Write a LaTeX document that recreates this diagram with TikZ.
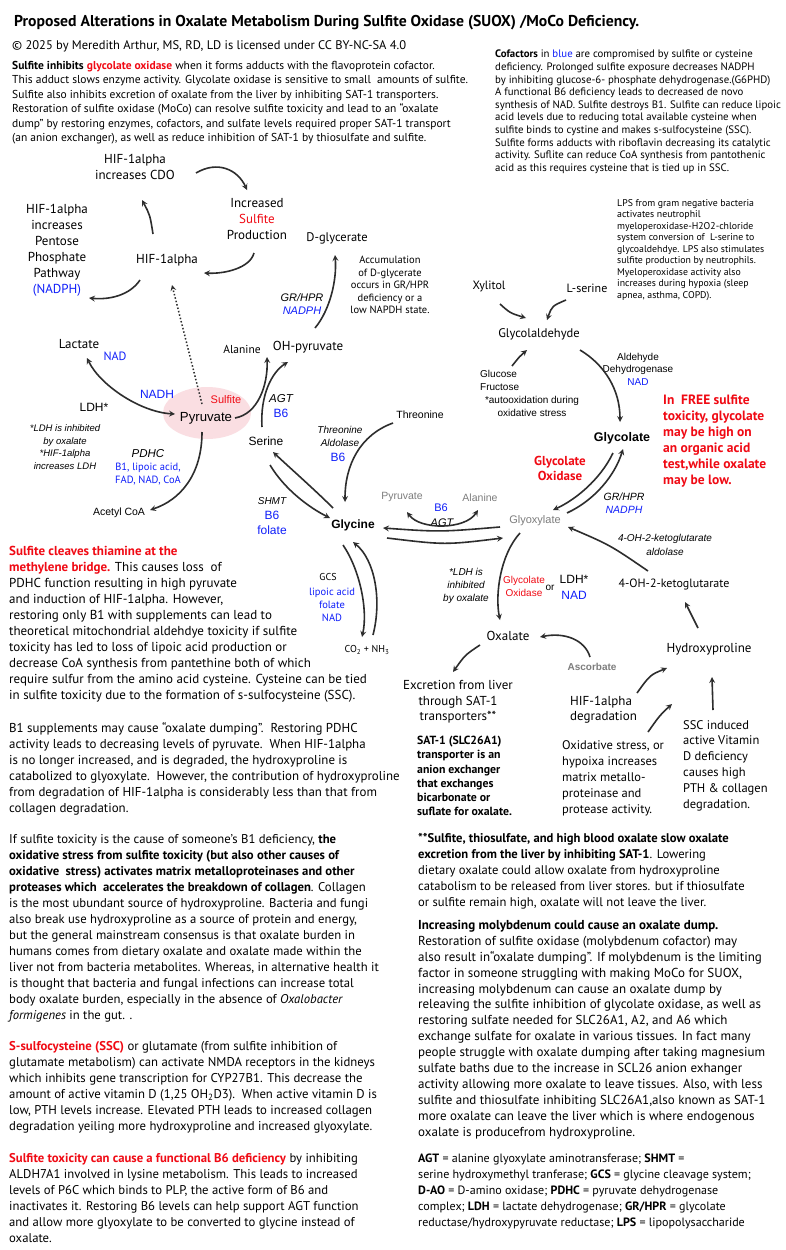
\documentclass[tikz,border=0pt]{standalone}
\usepackage{fontspec}
\setmainfont{PT Sans}
\newfontfamily\arialf{Liberation Sans}
\usetikzlibrary{arrows,calc}
\definecolor{sred}{RGB}{240,10,20}
\definecolor{cblue}{RGB}{15,30,250}
\definecolor{arrgray}{RGB}{45,45,45}
\definecolor{lgray}{RGB}{125,125,125}
\definecolor{pyrpink}{RGB}{250,222,226}
\newcommand{\fsz}[2]{\fontsize{#1}{#2}\selectfont}
\newcommand{\bl}[1]{\textcolor{cblue}{#1}}
\newcommand{\rd}[1]{\textcolor{sred}{#1}}
\tikzset{
  arr/.style={->,>=stealth,line width=1.6pt,draw=arrgray},
  lab/.style={inner sep=1pt,align=center,font=\fsz{13}{16}},
  alab/.style={inner sep=1pt,align=center,font=\arialf\fsz{11}{13}},
  para/.style={anchor=north west,inner sep=0pt,align=left,font=\fsz{12.9}{16}},
}
\begin{document}
\begin{tikzpicture}[x=1pt,y=-1pt]
  \fill[white] (0,0) rectangle (785,1250);
  \useasboundingbox (0,0) rectangle (785,1250);

  % header
  \node[anchor=west,inner sep=0pt,font=\bfseries\fsz{15.7}{18}] (title) at (14,23) {Proposed Alterations in Oxalate Metabolism During Sulfite Oxidase (SUOX) /MoCo Deficiency.};
  \node[anchor=west,inner sep=0pt,font=\fsz{12.5}{15}] (lic) at (12,46) {© 2025 by Meredith Arthur, MS, RD, LD is licensed under CC BY-NC-SA 4.0};
  \node[para,font=\fsz{11.5}{14.5}] (intro) at (12,61) {\textbf{Sulfite inhibits} \rd{\textbf{glycolate oxidase}} when it forms adducts with the flavoprotein cofactor.\\
    This adduct slows enzyme activity. Glycolate oxidase is sensitive to small\ \ amounts of sulfite.\\
    Sulfite also inhibits excretion of oxalate from the liver by inhibiting SAT-1 transporters.\\
    Restoration of sulfite oxidase (MoCo) can resolve sulfite toxicity and lead to an “oxalate\\
    dump” by restoring enzymes, cofactors, and sulfate levels required proper SAT-1 transport\\
    (an anion exchanger), as well as reduce inhibition of SAT-1 by thiosulfate and sulfite.};
  \node[para,font=\fsz{10.8}{12.6}] (cofac) at (495,50) {\textbf{Cofactors} in \bl{blue} are compromised by sulfite or cysteine\\
    deficiency. Prolonged sulfite exposure decreases NADPH\\
    by inhibiting glucose-6- phosphate dehydrogenase.(G6PHD)\\
    A functional B6 deficiency leads to decreased de novo\\
    synthesis of NAD. Sulfite destroys B1. Sulfite can reduce lipoic\\
    acid levels due to reducing total available cysteine when\\
    sulfite binds to cystine and makes s-sulfocysteine (SSC).\\
    Sulfite forms adducts with riboflavin decreasing its catalytic\\
    activity. Suflite can reduce CoA synthesis from pantothenic\\
    acid as this requires cysteine that is tied up in SSC.};
  \node[para,font=\fsz{9.8}{11.5}] (lps) at (617,199) {LPS from gram negative bacteria\\
    activates neutrophil\\
    myeloperoxidase-H2O2-chloride\\
    system conversion of\ \ L-serine to\\
    glycoaldehdye. LPS also stimulates\\
    sulfite production by neutrophils.\\
    Myeloperoxidase activity also\\
    increases during hypoxia (sleep\\
    apnea, asthma, COPD).};

  % HIF-1alpha loop
  \fill[pyrpink] (207,413) ellipse (44 and 26);
  \node[lab] (hifcdo) at (135,167) {HIF-1alpha\\increases CDO};
  \node[lab] (incsulf) at (257,219) {Increased\\\rd{Sulfite}\\Production};
  \node[lab] (hifppp) at (57,250) {HIF-1alpha\\increases\\Pentose\\Phosphate\\Pathway\\\bl{(NADPH)}};
  \node[lab] (hif) at (167,260) {HIF-1alpha};
  \node[lab,font=\fsz{12.5}{15}] (dglyc) at (337,238) {D-glycerate};
  \node[lab,font=\fsz{10.5}{12.6}] (accum) at (390,285) {Accumulation\\of D-glycerate\\occurs in GR/HPR\\deficiency or a\\low NAPDH state.};
  \node[alab,font=\arialf\itshape\fsz{11}{13}] (grhpra) at (302,304) {GR/HPR\\\bl{NADPH}};
  \node[lab,font=\fsz{11.5}{14}] (alanine) at (242,349) {Alanine};
  \node[lab] (ohpyr) at (308,347) {OH-pyruvate};
  \node[lab] (lactate) at (79,344) {Lactate};
  \node[lab,font=\fsz{12}{14}] (nadlac) at (115,356) {\bl{NAD}};

  % pyruvate
  \node[alab,font=\arialf\fsz{12}{14}] (nadh) at (157,394) {\bl{NADH}};
  \node[alab,font=\arialf\fsz{12}{14}] (ldh) at (94,407) {LDH*};
  \node[alab,font=\arialf\fsz{13.2}{16}] (pyruvate) at (206,418) {Pyruvate};
  \node[alab,font=\arialf\fsz{11}{13}] (sulfpyr) at (226,400) {\rd{Sulfite}};
  \node[alab,font=\arialf\itshape\fsz{9.5}{12.6}] (ldhnote) at (65,447) {*LDH is inhibited\\by oxalate\\*HIF-1alpha\\increases LDH};
  \node[alab,font=\arialf\itshape\fsz{11.5}{13}] (pdhc) at (148,454) {PDHC};
  \node[lab,font=\fsz{10.5}{12.5}] (pdhcco) at (148,474) {\bl{B1, lipoic acid,}\\\bl{FAD, NAD, CoA}};
  \node[alab,font=\arialf\fsz{10.5}{12}] (acetyl) at (119,513) {Acetyl CoA};

  % serine, glycine
  \node[alab,font=\arialf\itshape\fsz{11.5}{13}] (agt) at (281,399) {AGT};
  \node[alab,font=\arialf\fsz{12}{14}] (agtb6) at (281,413) {\bl{B6}};
  \node[alab,font=\arialf\fsz{12}{14}] (serine) at (266,441) {Serine};
  \node[alab,font=\arialf\fsz{10.5}{12}] (thr) at (420,415) {Threonine};
  \node[alab,font=\arialf\itshape\fsz{10}{13}] (thrald) at (340,436.5) {Threonine\\Aldolase};
  \node[alab,font=\arialf\fsz{12}{14}] (thrb6) at (338,457) {\bl{B6}};
  \node[alab,font=\arialf\itshape\fsz{10}{12}] (shmt) at (272,501) {SHMT};
  \node[alab,font=\arialf\fsz{12}{15}] (shmtco) at (272,522.5) {\bl{B6}\\\bl{folate}};
  \node[alab,font=\arialf\bfseries\fsz{12}{14}] (glycine) at (353,525) {Glycine};
  \node[alab,font=\arialf\fsz{10.5}{12},text=lgray] (pyrg) at (402,497) {Pyruvate};
  \node[alab,font=\arialf\fsz{10.5}{12},text=lgray] (alag) at (480,498) {Alanine};
  \node[alab,font=\arialf\fsz{11}{13}] (glyb6) at (441,508) {\bl{B6}};
  \node[alab,font=\arialf\itshape\fsz{11}{13}] (glyagt) at (442,523) {AGT};
  \node[lab,font=\fsz{10}{12}] (gcs) at (328,577) {GCS};
  \node[lab,font=\fsz{10.5}{13}] (gcsco) at (332,605) {\bl{lipoic acid}\\\bl{folate}\\\bl{NAD}};
  \node[lab,font=\fsz{10}{12}] (co2) at (367,650) {CO\textsubscript{2} + NH\textsubscript{3}};

  % glycolaldehyde, glycolate
  \node[lab,font=\fsz{12}{14}] (xylitol) at (489,286) {Xylitol};
  \node[lab,font=\fsz{12}{14}] (lserine) at (587,288) {L-serine};
  \node[lab,font=\fsz{12.5}{14}] (glyald) at (539,334) {Glycolaldehyde};
  \node[alab,font=\arialf\fsz{10}{13},anchor=west,align=left] (glucose) at (479,380.5) {Glucose\\Fructose};
  \node[alab,font=\arialf\fsz{10}{13}] (autoox) at (532,406.5) {*autooxidation during\\oxidative stress};
  \node[alab,font=\arialf\fsz{10}{12.5}] (aldh) at (638,369) {Aldehyde\\Dehydrogenase\\\bl{NAD}};
  \node[alab,font=\arialf\bfseries\fsz{12.5}{14}] (glycolate) at (622,438) {Glycolate};
  \node[para,font=\bfseries\fsz{13.5}{16},text=sred] (freetox) at (663,395) {In\ \ FREE sulfite\\toxicity, glycolate\\may be high on\\an organic acid\\test,while oxalate\\may be low.};
  \node[lab,font=\bfseries\fsz{13}{15},text=sred] (glycolox) at (560,468.5) {Glycolate\\Oxidase};
  \node[alab,font=\arialf\itshape\fsz{10.5}{12.5}] (grhprb) at (624,503) {GR/HPR\\\bl{NADPH}};
  \node[alab,font=\arialf\fsz{11}{13},text=lgray] (glyox) at (535,521) {Glyoxylate};
  \node[alab,font=\arialf\itshape\fsz{10}{14}] (ketald) at (665,545) {4-OH-2-ketoglutarate\\aldolase};

  % oxalate, hydroxyproline
  \node[alab,font=\arialf\itshape\fsz{10}{13}] (ldhnoteb) at (466,586) {*LDH is\\inhibited\\by oxalate};
  \node[alab,font=\arialf\fsz{10}{13},text=sred] (goxb) at (524,586.5) {Glycolate\\Oxidase};
  \node[alab,font=\arialf\fsz{10}{12}] (orw) at (550,588) {or};
  \node[alab,font=\arialf\fsz{12}{16}] (ldhb) at (574,587) {LDH*\\\bl{NAD}};
  \node[lab,font=\fsz{12}{14}] (ketog) at (674,584) {4-OH-2-ketoglutarate};
  \node[lab] (oxalate) at (508,636) {Oxalate};
  \node[lab] (hyp) at (709,649) {Hydroxyproline};
  \node[alab,font=\arialf\bfseries\fsz{10}{12},text=lgray] (ascorb) at (592,667) {Ascorbate};
  \node[lab,font=\fsz{13}{15.5}] (excr) at (458,702) {Excretion from liver\\through SAT-1\\transporters**};
  \node[lab,font=\fsz{13}{15},anchor=west,align=left] (hifdeg) at (569,710) {HIF-1alpha\\degradation};
  \node[para,font=\bfseries\fsz{11.8}{14.2}] (sat) at (417,736) {SAT-1 (SLC26A1)\\transporter is an\\anion exchanger\\that exchanges\\bicarbonate or\\suflate for oxalate.};
  \node[para,font=\fsz{12.5}{16}] (oxstress) at (562,740) {Oxidative stress, or\\hypoixa increases\\matrix metallo-\\proteinase and\\protease activity.};
  \node[para,font=\fsz{12.5}{15.8}] (sscind) at (683,720) {SSC induced\\active Vitamin\\D deficiency\\causes high\\PTH \& collagen\\degradation.};

  % connectors
  \draw[arr] ($(hifcdo)+(61,6)$) .. controls (218,160) and (238,170) .. ($(incsulf)+(-10,-29)$);
  \draw[arr] ($(incsulf)+(-3,34)$) .. controls (250,268) and (225,274) .. ($(hif)+(37,13)$);
  \draw[arr] ($(hif)+(-14,-26)$) .. controls (150,215) .. ($(hifcdo)+(7,33)$);
  \draw[arr] ($(hif)+(-27,20)$) .. controls (130,295) and (110,300) .. ($(hifppp)+(32,48)$);
  \draw[->,>=stealth,line width=1.5pt,draw=arrgray,dotted] ($(pyruvate)+(-4,-14)$) -- ($(hif)+(5,25)$);
  \draw[arr] ($(ohpyr)+(7,-19)$) .. controls (330,310) and (337,280) .. ($(dglyc)+(-2,17)$);
  \draw[arr,<->] ($(lactate)+(8,14)$) .. controls (100,385) and (140,412) .. ($(pyruvate)+(-31,-4)$);
  \draw[arr] ($(pyruvate)+(29,0)$) .. controls (258,414) and (268,385) .. ($(alanine)+(25,8)$);
  \draw[arr] ($(serine)+(-4,-14)$) .. controls (260,395) and (272,372) .. ($(ohpyr)+(-20,15)$);
  \draw[arr] ($(pyruvate)+(-4,14)$) .. controls (202,475) and (180,500) .. ($(acetyl)+(31,-3)$);
  \draw[arr] ($(serine)+(4,24)$) .. controls (285,490) and (310,508) .. ($(glycine)+(-23,-7)$);
  \draw[arr] ($(glycine)+(-20,-17)$) .. controls (315,490) and (290,468) .. ($(serine)+(7,11)$);
  \draw[arr] ($(thr)+(-27,8)$) .. controls (360,435) and (345,465) .. ($(glycine)+(-8,-23)$);
  \draw[arr] ($(glyox)+(-35,6)$) .. controls (440,532) .. ($(glycine)+(30,3)$);
  \draw[arr] ($(glycine)+(34,13)$) .. controls (445,545) .. ($(glyox)+(-32,17)$);
  \draw[arr,<->] ($(pyrg)+(5,15)$) .. controls (420,530) and (465,530) .. ($(alag)+(-2,12)$);
  \draw[arr] ($(glycine)+(-10,20)$) .. controls (360,570) and (368,610) .. ($(co2)+(-5,-13)$);
  \draw[arr] ($(co2)+(6,-15)$) .. controls (382,600) and (375,560) .. ($(glycine)+(0,17)$);
  \draw[arr] ($(xylitol)+(11,18)$) .. controls (510,313) .. ($(glyald)+(-13,-16)$);
  \draw[arr] ($(lserine)+(-21,12)$) .. controls (552,306) .. ($(glyald)+(8,-14)$);
  \draw[arr] ($(glucose.west)+(33,-14.5)$) .. controls (520,356) .. ($(glyald)+(-12,16)$);
  \draw[arr] ($(glyald)+(41,16)$) .. controls (605,365) and (620,390) .. ($(glycolate)+(-2,-16)$);
  \draw[arr] ($(glycolate)+(-9,15)$) .. controls (600,480) and (575,500) .. ($(glyox)+(18,-11)$);
  \draw[arr] ($(glyox)+(32,-8)$) .. controls (595,500) and (615,475) .. ($(glycolate)+(1,11)$);
  \draw[arr] ($(ketog)+(-26,-13)$) .. controls (610,545) .. ($(glyox)+(33,6)$);
  \draw[arr] ($(hyp)+(-11,-21)$) -- ($(ketog)+(11,18)$);
  \draw[arr] ($(glyox)+(-15,12)$) .. controls (500,555) and (495,595) .. ($(oxalate)+(-8,-16)$);
  \draw[arr] ($(ascorb)+(-2,-10)$) .. controls (585,640) and (565,632) .. ($(oxalate)+(32,1)$);
  \draw[arr] ($(oxalate)+(-28,9)$) .. controls (465,655) .. ($(excr)+(-5,-30)$);
  \draw[arr] ($(hifdeg.west)+(68,-17)$) .. controls (650,675) .. ($(hyp)+(-42,19)$);
  \draw[arr] ($(oxstress.north west)+(86,-8)$) .. controls (660,715) .. ($(hyp)+(-37,55)$);
  \draw[arr] ($(sscind.north west)+(30,-10)$) -- ($(hyp)+(3,28)$);

  % text blocks, left column
  \node[para,font=\fsz{13}{16}] (thiam) at (9,546) {\rd{\textbf{Sulfite cleaves thiamine at the}}\\
    \rd{\textbf{methylene bridge.}} This causes loss\ \ of\\
    PDHC function resulting in high pyruvate\\
    and induction of HIF-1alpha. However,\\
    restoring only B1 with supplements can lead to\\
    theoretical mitochondrial aldehdye toxicity if sulfite\\
    toxicity has led to loss of lipoic acid production or\\
    decrease CoA synthesis from pantethine both of which\\
    require sulfur from the amino acid cysteine. Cysteine can be tied\\
    in sulfite toxicity due to the formation of s-sulfocysteine (SSC).};
  \node[para] (bsupp) at (9,722) {B1 supplements may cause “oxalate dumping”.\ \ Restoring PDHC\\
    activity leads to decreasing levels of pyruvate.\ \ When HIF-1alpha\\
    is no longer increased, and is degraded, the hydroxyproline is\\
    catabolized to glyoxylate.\ \ However, the contribution of hydroxyproline\\
    from degradation of HIF-1alpha is considerably less than that from\\
    collagen degradation.};
  \node[para,font=\fsz{12.7}{16}] (oxid) at (9,834) {If sulfite toxicity is the cause of someone’s B1 deficiency, \textbf{the}\\
    \textbf{oxidative stress from sulfite toxicity (but also other causes of}\\
    \textbf{oxidative\ \ stress) activates matrix metalloproteinases and other}\\
    \textbf{proteases which\ \ accelerates the breakdown of collagen}. Collagen\\
    is the most ubundant source of hydroxyproline. Bacteria and fungi\\
    also break use hydroxyproline as a source of protein and energy,\\
    but the general mainstream consensus is that oxalate burden in\\
    humans comes from dietary oxalate and oxalate made within the\\
    liver not from bacteria metabolites. Whereas, in alternative health it\\
    is thought that bacteria and fungal infections can increase total\\
    body oxalate burden, especially in the absence of \textit{Oxalobacter}\\
    \textit{formigenes} in the gut. .};
  \node[para,font=\fsz{12.75}{16}] (sscpar) at (9,1041) {\rd{\textbf{S-sulfocysteine (SSC)}} or glutamate (from sulfite inhibition of\\
    glutamate metabolism) can activate NMDA receptors in the kidneys\\
    which inhibits gene transcription for CYP27B1. This decrease the\\
    amount of active vitamin D (1,25 OH\textsubscript{2}D3).\ \ When active vitamin D is\\
    low, PTH levels increase. Elevated PTH leads to increased collagen\\
    degradation yeiling more hydroxyproline and increased glyoxylate.};
  \node[para,font=\fsz{12.7}{16}] (b6par) at (9,1153) {\rd{\textbf{Sulfite toxicity can cause a functional B6 deficiency}} by inhibiting\\
    ALDH7A1 involved in lysine metabolism. This leads to increased\\
    levels of P6C which binds to PLP, the active form of B6 and\\
    inactivates it. Restoring B6 levels can help support AGT function\\
    and allow more glyoxylate to be converted to glycine instead of\\
    oxalate.};

  % text blocks, right column
  \node[para,font=\fsz{12.6}{16}] (satpar) at (418,833) {\textbf{**Sulfite, thiosulfate, and high blood oxalate slow oxalate}\\
    \textbf{excretion from the liver by inhibiting SAT-1}. Lowering\\
    dietary oxalate could allow oxalate from hydroxyproline\\
    catabolism to be released from liver stores. but if thiosulfate\\
    or sulfite remain high, oxalate will not leave the liver.};
  \node[para,font=\fsz{13}{15.9}] (molyb) at (418,920) {\textbf{Increasing molybdenum could cause an oxalate dump.}\\
    Restoration of sulfite oxidase (molybdenum cofactor) may\\
    also result in“oxalate dumping”. If molybdenum is the limiting\\
    factor in someone struggling with making MoCo for SUOX,\\
    increasing molybdenum can cause an oxalate dump by\\
    releaving the sulfite inhibition of glycolate oxidase, as well as\\
    restoring sulfate needed for SLC26A1, A2, and A6 which\\
    exchange sulfate for oxalate in various tissues. In fact many\\
    people struggle with oxalate dumping after taking magnesium\\
    sulfate baths due to the increase in SCL26 anion exhanger\\
    activity allowing more oxalate to leave tissues. Also, with less\\
    sulfite and thiosulfate inhibiting SLC26A1,also known as SAT-1\\
    more oxalate can leave the liver which is where endogenous\\
    oxalate is producefrom hydroxyproline.};
  \node[para,font=\fsz{12.05}{15.8}] (gloss) at (418,1154) {\textbf{AGT} = alanine glyoxylate aminotransferase; \textbf{SHMT} =\\
    serine hydroxymethyl tranferase; \textbf{GCS} = glycine cleavage system;\\
    \textbf{D-AO} = D-amino oxidase; \textbf{PDHC} = pyruvate dehydrogenase\\
    complex; \textbf{LDH} = lactate dehydrogenase; \textbf{GR/HPR} = glycolate\\
    reductase/hydroxypyruvate reductase; \textbf{LPS} = lipopolysaccharide};
\end{tikzpicture}
\end{document}
